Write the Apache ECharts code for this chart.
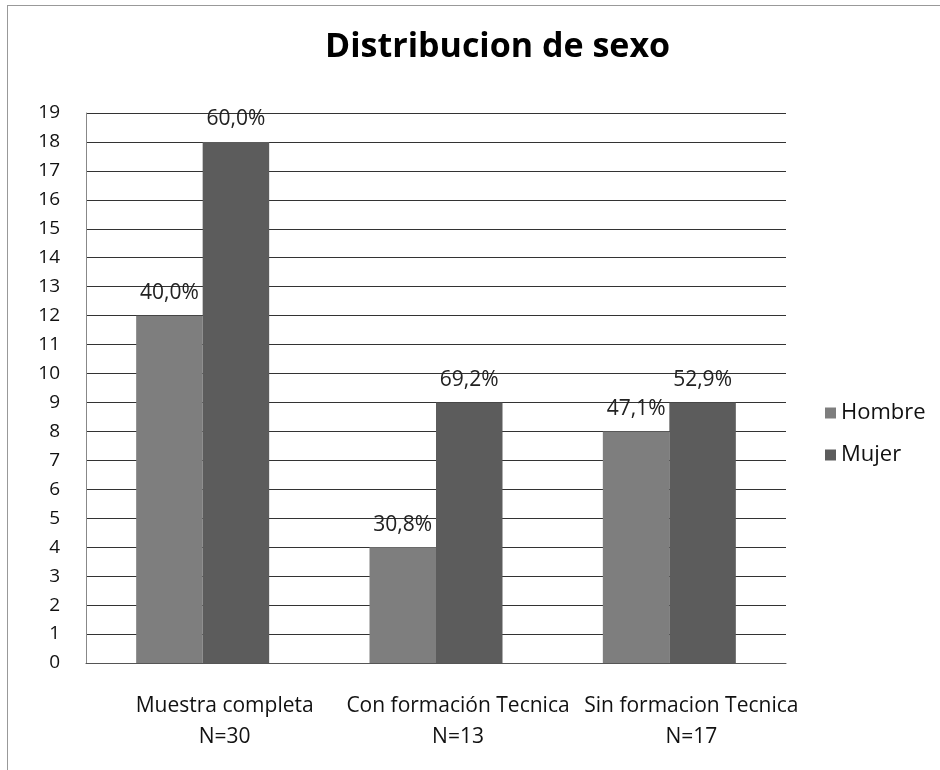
<!DOCTYPE html>
<html>
<head>
<meta charset="utf-8">
<script src="https://cdn.jsdelivr.net/npm/echarts@6/dist/echarts.min.js"></script>
<style>
  html, body { margin: 0; padding: 0; background: #fff; overflow: hidden; }
  #frame {
    position: absolute; left: 7px; top: 5px; width: 940px; height: 770px;
    border-left: 1px solid #999; border-top: 1px solid #999;
  }
  #chart { position: absolute; left: 0; top: 0; width: 940px; height: 770px; }
</style>
</head>
<body>
<div id="frame"></div>
<div id="chart"></div>
<script>
// categorias y valores (conteos por sexo)
const categories = ['Muestra completa\nN=30', 'Con formación Tecnica\nN=13', 'Sin formacion Tecnica\nN=17']
const hombre = [12, 4, 8]
const mujer = [18, 9, 9]
const hombrePct = ['40,0%', '30,8%', '47,1%']
const mujerPct = ['60,0%', '69,2%', '52,9%']

const chart = echarts.init(document.getElementById('chart'))
const font = '"Open Sans", "Liberation Sans", sans-serif'

function labelFor(pcts) {
  return {
    show: true,
    position: 'top',
    distance: 12,
    color: '#222',
    fontSize: 21,
    fontFamily: font,
    formatter: p => pcts[p.dataIndex]
  }
}

chart.setOption({
  backgroundColor: 'transparent',
  animation: false,
  title: {
    text: 'Distribucion de sexo',
    left: 320,
    top: 25,
    textStyle: { fontSize: 34, fontWeight: 'bold', color: '#000', fontFamily: font }
  },
  legend: {
    orient: 'vertical',
    left: 820,
    top: 397,
    itemWidth: 11,
    itemHeight: 11,
    itemGap: 20,
    icon: 'rect',
    textStyle: { fontSize: 22, color: '#111', fontFamily: font },
    data: ['Hombre', 'Mujer']
  },
  grid: { left: 86, right: 154, top: 113, bottom: 107 },
  xAxis: {
    type: 'category',
    data: categories,
    axisTick: { show: false },
    axisLine: { lineStyle: { color: '#555' } },
    axisLabel: {
      color: '#111',
      fontSize: 21,
      fontFamily: font,
      lineHeight: 31,
      margin: 28,
      padding: [0, 0, 0, 44],
      interval: 0
    }
  },
  yAxis: {
    type: 'value',
    min: 0,
    max: 19,
    interval: 1,
    axisLine: { show: true, lineStyle: { color: '#888' } },
    axisTick: { show: false },
    axisLabel: { color: '#111', fontSize: 19, fontFamily: font, margin: 26 },
    splitLine: { lineStyle: { color: '#333', width: 1 } }
  },
  series: [
    {
      name: 'Hombre',
      type: 'bar',
      data: hombre,
      barGap: '0%',
      barCategoryGap: '43%',
      itemStyle: { color: '#7e7e7e' },
      label: labelFor(hombrePct)
    },
    {
      name: 'Mujer',
      type: 'bar',
      data: mujer,
      itemStyle: { color: '#5c5c5c' },
      label: labelFor(mujerPct)
    }
  ]
})
</script>
</body>
</html>
